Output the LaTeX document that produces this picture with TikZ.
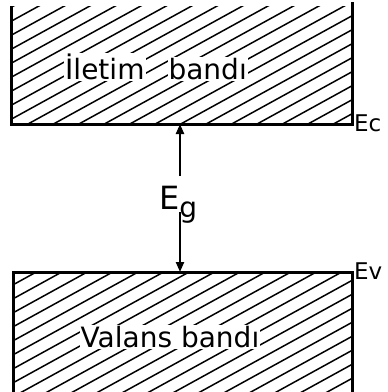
\documentclass[tikz,border=0pt]{standalone}
\usepackage{fontspec}
\setmainfont{DejaVu Sans}
\usetikzlibrary{arrows.meta}
\setlength{\fboxsep}{1pt}
\begin{document}
\begin{tikzpicture}[x=1pt,y=-1pt,
  band/.style={line width=3pt, line join=miter},
  hatch/.style={line width=1.5pt},
  lbl/.style={inner sep=0pt, font=\fontsize{28}{28}\selectfont},
  lvl/.style={inner sep=0pt, font=\fontsize{23}{23}\selectfont, anchor=base west},
  gap/.style={line width=2.2pt, -{Triangle[length=10pt,width=8pt]}}]
\useasboundingbox (0,0) rectangle (388,392);
% hatching, conduction band
\begin{scope}
  \clip (11,6) rectangle (352,124);
  \foreach \k in {-10,...,20} {
    \draw[hatch] (0,{139.4+14*\k}) -- (388,{139.4+14*\k-0.55*388});
  }
\end{scope}
% hatching, valence band
\begin{scope}
  \clip (13,272) rectangle (352,392);
  \foreach \k in {-2,...,22} {
    \draw[hatch] (0,{292+14*\k}) -- (388,{292+14*\k-0.55*388});
  }
\end{scope}
% band outlines
\draw[band] (11,6) -- (11,124) -- (352,124) -- (352,2);
\draw[band] (13,394) -- (13,272) -- (352,272) -- (352,394);
% labels
\node[lbl] (cb) at (156,67) {\colorbox{white}{İletim}\hspace{22pt}\colorbox{white}{bandı}};
\node[lbl] (vb) at (170,337) {\colorbox{white}{Valans bandı}};
\node[lvl] (ec) at (354,131) {Ec};
\node[lvl] (ev) at (354,279) {Ev};
\node[inner sep=0pt, anchor=base west, font=\fontsize{32}{32}\selectfont] (eg) at (159,209)
  {E\raisebox{-8pt}{\fontsize{28}{28}\selectfont g}};
% gap arrows
\coordinate (ecpt) at (180,124);
\coordinate (evpt) at (180,272);
\coordinate (a1) at (180,176);
\coordinate (a2) at (180,212);
\draw[gap] (a1) -- (ecpt);
\draw[gap] (a2) -- (evpt);
\end{tikzpicture}
\end{document}
